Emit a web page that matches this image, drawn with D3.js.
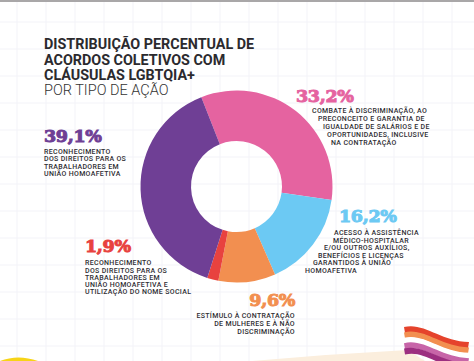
<!DOCTYPE html>
<meta charset="utf-8">
<style>
body { margin: 0; background: #fff; }
svg { display: block; }
text { font-family: Roboto, sans-serif; }
.title { font-size: 14.35px; font-weight: 700; fill: #2b2a2e; }
.sub { font-size: 14.5px; font-weight: 300; fill: #333; }
.pct { font-family: "DejaVu Serif", serif; font-size: 17.5px; font-weight: 700; stroke-width: 1px; letter-spacing: -.35px; }
.desc { font-size: 7px; font-weight: 500; fill: #2f2e33; letter-spacing: .33px; }
</style>
<svg width="474" height="361"></svg>
<script src="https://d3js.org/d3.v7.min.js"></script>
<script>
var categories = ['combate', 'assistencia', 'contratacao', 'nomeSocial', 'uniao'];
var values = [33.2, 16.2, 9.6, 1.9, 39.1];
var colors = ['#e563a0', '#6cc9f3', '#f28f50', '#e8423f', '#6f3f95'];
var pctLabels = ['33,2%', '16,2%', '9,6%', '1,9%', '39,1%'];
var titleLines = ['DISTRIBUIÇÃO PERCENTUAL DE', 'ACORDOS COLETIVOS COM', 'CLÁUSULAS LGBTQIA+'];
var subtitle = 'POR TIPO DE AÇÃO';
var descLines = [
  ['COMBATE À DISCRIMINAÇÃO, AO', 'PRECONCEITO E GARANTIA DE', 'IGUALDADE DE SALÁRIOS E DE', 'OPORTUNIDADES, INCLUSIVE', 'NA CONTRATAÇÃO'],
  ['ACESSO À ASSISTÊNCIA', 'MÉDICO-HOSPITALAR', 'E/OU OUTROS AUXÍLIOS,', 'BENEFÍCIOS E LICENÇAS', 'GARANTIDOS À UNIÃO', 'HOMOAFETIVA'],
  ['ESTÍMULO À CONTRATAÇÃO', 'DE MULHERES E À NÃO', 'DISCRIMINAÇÃO'],
  ['RECONHECIMENTO', 'DOS DIREITOS PARA OS', 'TRABALHADORES EM', 'UNIÃO HOMOAFETIVA E', 'UTILIZAÇÃO DO NOME SOCIAL'],
  ['RECONHECIMENTO', 'DOS DIREITOS PARA OS', 'TRABALHADORES EM', 'UNIÃO HOMOAFETIVA']
];
var flagColors = ['#e5432c', '#f28f50', '#ffffff', '#c765a8', '#9c2f80'];

var svg = d3.select('svg');
var width = +svg.attr('width');
var height = +svg.attr('height');

// grade de fundo
var grid = svg.append('g').attr('stroke', '#f3f3f8').attr('stroke-width', 1);
d3.range(17, width, 29).forEach(function (x) {
  grid.append('line').attr('x1', x).attr('x2', x).attr('y1', 0).attr('y2', height);
});
d3.range(22, height, 27).forEach(function (y) {
  grid.append('line').attr('y1', y).attr('y2', y).attr('x1', 0).attr('x2', width);
});
svg.append('rect').attr('width', width).attr('height', 2).attr('fill', '#a9a7a8');

// título
var title = svg.append('g');
titleLines.forEach(function (t, i) {
  title.append('text').attr('class', 'title').attr('x', 44).attr('y', 49 + i * 15.6).text(t);
});
title.append('text').attr('class', 'sub').attr('x', 44).attr('y', 95).text(subtitle);

// rosca
var pie = d3.pie().sort(null)
  .startAngle(-21.5 * Math.PI / 180)
  .endAngle((360 - 21.5) * Math.PI / 180);
var arc = d3.arc().innerRadius(45.5).outerRadius(96);
svg.append('g').attr('transform', 'translate(236.5,186.5)')
  .selectAll('path')
  .data(pie(values))
  .enter().append('path')
  .attr('d', arc)
  .attr('fill', function (d, i) { return colors[i]; });

// rótulos
var labelPos = [
  { x: 296, y: 102, anchor: 'start', lines: [[312, 113], [318, 121], [323, 129], [327, 137], [331, 145]] },
  { x: 339, y: 222, anchor: 'start', lines: [[334, 235], [333, 242.5], [324, 250], [318, 257.5], [313, 265], [305, 272.5]] },
  { x: 295, y: 306, anchor: 'end', lines: [[295, 318], [295, 326], [295, 334]] },
  { x: 85, y: 252, anchor: 'start', lines: [[85, 265], [85, 272.5], [85, 279.5], [85, 287], [85, 294]] },
  { x: 44, y: 142, anchor: 'start', lines: [[44, 153.5], [44, 160.5], [44, 168.5], [44, 175.5]] }
];
categories.forEach(function (c, i) {
  var p = labelPos[i];
  var g = svg.append('g').attr('class', c);
  g.append('text').attr('class', 'pct')
    .attr('x', p.x).attr('y', p.y)
    .attr('text-anchor', p.anchor)
    .attr('fill', colors[i]).attr('stroke', colors[i])
    .text(pctLabels[i]);
  descLines[i].forEach(function (t, j) {
    g.append('text').attr('class', 'desc')
      .attr('x', p.lines[j][0]).attr('y', p.lines[j][1])
      .attr('text-anchor', p.anchor)
      .text(t);
  });
});

// decoração: mesa, mancha amarela, bandeira
svg.append('path').attr('d', 'M252 361 Q330 354 408 350 L425 361 Z').attr('fill', '#fbeedd');
svg.append('path').attr('d', 'M0 361 Q18 354 38 361 Z').attr('fill', '#f7d417');
flagColors.forEach(function (c, i) {
  var y = i * 5.4;
  svg.append('path')
    .attr('d', 'M404 ' + (327 + y) + ' C424 ' + (322 + y) + ' 440 ' + (341 + y) + ' 469 ' + (342 + y) +
      ' L468 ' + (348 + y) + ' C440 ' + (347 + y) + ' 424 ' + (328 + y) + ' 405 ' + (333 + y) + ' Z')
    .attr('fill', c);
});
</script>
